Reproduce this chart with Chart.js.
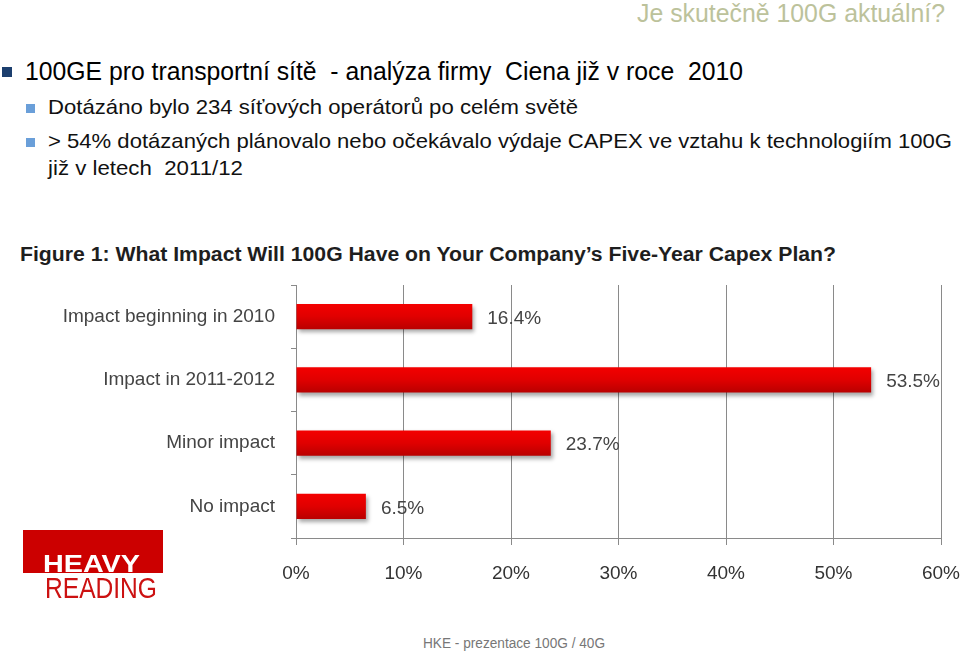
<!DOCTYPE html>
<html>
<head>
<meta charset="utf-8">
<script src="https://cdn.jsdelivr.net/npm/chart.js@4/dist/chart.umd.min.js"></script>
<style>
  html, body { margin:0; padding:0; background:#fff; width:960px; height:652px; overflow:hidden; }
  body { position:relative; font-family:"Liberation Sans", Arial, sans-serif; }
  .t { position:absolute; white-space:pre; line-height:1; transform-origin:0 0; display:inline-block; }
  .sq { position:absolute; }
  #wrap { position:absolute; left:0; top:270px; width:960px; height:340px; }
</style>
</head>
<body>
<div class="t" data-w="308" style="left:637px;top:1px;font-size:25px;color:#bcc29b;">Je skutečně 100G aktuální?</div>

<div class="sq" style="left:2px;top:67px;width:10px;height:10px;background:#1c3f6e;"></div>
<div class="t" data-w="718" style="left:25px;top:59px;font-size:25px;color:#000;">100GE pro transportní sítě  - analýza firmy  Ciena již v roce  2010</div>

<div class="sq" style="left:26px;top:104px;width:9px;height:9px;background:#6a9fd9;"></div>
<div class="t" data-w="530" style="left:48px;top:96px;font-size:21px;color:#111;">Dotázáno bylo 234 síťových operátorů po celém světě</div>

<div class="sq" style="left:26px;top:138px;width:9px;height:9px;background:#6a9fd9;"></div>
<div class="t" data-w="904" style="left:48px;top:130px;font-size:21px;color:#111;">&gt; 54% dotázaných plánovalo nebo očekávalo výdaje CAPEX ve vztahu k technologiím 100G</div>
<div class="t" data-w="195" style="left:48px;top:157px;font-size:21px;color:#111;">již v letech  2011/12</div>

<div class="t" data-w="816" style="left:20px;top:244px;font-size:20px;font-weight:bold;color:#1e1e1e;">Figure 1: What Impact Will 100G Have on Your Company’s Five-Year Capex Plan?</div>

<div id="wrap"><canvas id="c" width="960" height="340"></canvas></div>

<div class="sq" style="left:23px;top:530px;width:140px;height:43px;background:#cc0000;"></div>
<div class="t" data-w="97" style="left:43px;top:553px;font-size:23px;font-weight:bold;color:#fff;">HEAVY</div>
<div class="t" data-w="112" style="left:45px;top:574px;font-size:29px;color:#cc1111;">READING</div>

<div class="t" data-w="182" style="left:423px;top:636px;font-size:14px;color:#777;">HKE - prezentace 100G / 40G</div>

<script>
const categories = ['Impact beginning in 2010', 'Impact in 2011-2012', 'Minor impact', 'No impact'];
const values = [16.4, 53.5, 23.7, 6.5];
const xTicks = [0, 10, 20, 30, 40, 50, 60];

document.querySelectorAll('.t[data-w]').forEach(el => {
  const w = el.getBoundingClientRect().width;
  const target = parseFloat(el.dataset.w);
  if (w > 0) el.style.transform = 'scaleX(' + (target / w) + ')';
});

const chartFont = "'Liberation Sans', Arial, sans-serif";

const shadowPlugin = {
  id: 'barShadow',
  beforeDatasetDraw(chart) {
    const ctx = chart.ctx;
    ctx.save();
    ctx.shadowColor = 'rgba(0,0,0,0.35)';
    ctx.shadowBlur = 4;
    ctx.shadowOffsetX = 2;
    ctx.shadowOffsetY = 3;
  },
  afterDatasetDraw(chart) { chart.ctx.restore(); }
};

const labelPlugin = {
  id: 'valueLabels',
  afterDatasetsDraw(chart) {
    const ctx = chart.ctx;
    const meta = chart.getDatasetMeta(0);
    ctx.save();
    ctx.font = '19px ' + chartFont;
    ctx.fillStyle = '#444';
    ctx.textAlign = 'left';
    ctx.textBaseline = 'middle';
    meta.data.forEach((bar, i) => {
      ctx.fillText(values[i].toFixed(1) + '%', bar.x + 15, bar.y + 2);
    });
    ctx.restore();
  }
};

new Chart(document.getElementById('c'), {
  type: 'bar',
  data: {
    labels: categories,
    datasets: [{
      data: values,
      backgroundColor: (context) => {
        const chart = context.chart;
        const ys = chart.scales && chart.scales.y;
        if (!ys || !chart.chartArea) return '#d40000';
        const yc = ys.getPixelForValue(context.dataIndex);
        const g = chart.ctx.createLinearGradient(0, yc - 13, 0, yc + 13);
        g.addColorStop(0, '#f40000');
        g.addColorStop(0.5, '#e00000');
        g.addColorStop(1, '#b80000');
        return g;
      },
      borderWidth: 0,
      barPercentage: 0.4,
      categoryPercentage: 1.0
    }]
  },
  options: {
    indexAxis: 'y',
    responsive: false,
    animation: false,
    layout: { padding: { left: 0, right: 19, top: 15, bottom: 0 } },
    plugins: { legend: { display: false }, tooltip: { enabled: false } },
    scales: {
      x: {
        min: 0, max: 60,
        afterBuildTicks: (scale) => { scale.ticks = xTicks.map(v => ({ value: v })); },
        afterFit: (scale) => { scale.height = 72; scale.paddingLeft = 0; scale.paddingRight = 0; },
        ticks: {
          callback: (v) => v + '%',
          font: { size: 19, family: chartFont },
          color: '#333',
          padding: 17,
          maxRotation: 0
        },
        grid: { color: '#8a8a8a', lineWidth: 1, tickLength: 7, drawTicks: true },
        border: { color: '#8a8a8a', width: 1 }
      },
      y: {
        afterFit: (scale) => { scale.width = 296; scale.paddingTop = 0; scale.paddingBottom = 0; },
        ticks: {
          font: { size: 19, family: chartFont },
          color: '#444',
          padding: 16
        },
        grid: { offset: true, drawOnChartArea: false, drawTicks: true, tickLength: 5, color: '#8a8a8a' },
        border: { color: '#8a8a8a', width: 1 }
      }
    }
  },
  plugins: [shadowPlugin, labelPlugin]
});
</script>
</body>
</html>
